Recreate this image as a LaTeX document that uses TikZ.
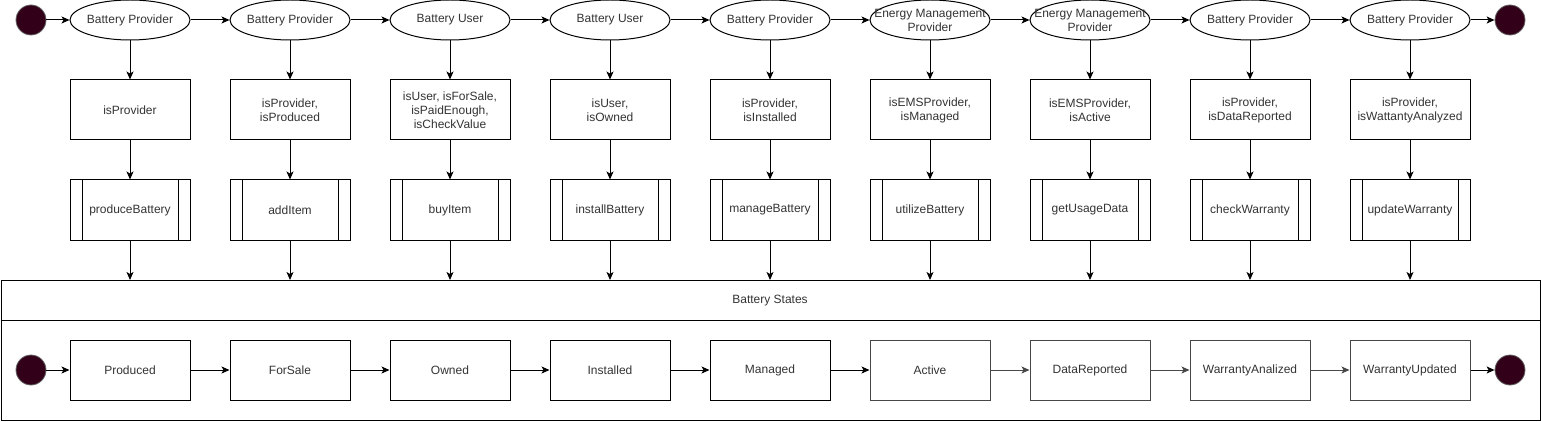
\documentclass[tikz,border=0pt]{standalone}
\usepackage{fontspec}
\setmainfont{Liberation Sans}
\usetikzlibrary{arrows.meta,shapes.geometric}
\definecolor{dot}{RGB}{51,0,26}
\definecolor{txt}{RGB}{51,51,51}
\tikzset{
  every node/.style={font=\fontsize{12}{14}\selectfont, text=txt},
  actor/.style={ellipse, draw, line width=1pt, minimum width=120, minimum height=40, inner sep=0},
  rulebox/.style={rectangle, draw, line width=1pt, minimum width=120, minimum height=60, align=center, inner sep=0},
  procbox/.style={rectangle, draw, line width=1pt, minimum width=120, minimum height=60, inner sep=0,
    path picture={\draw[line width=1pt] ([xshift=12pt]path picture bounding box.north west) -- ([xshift=12pt]path picture bounding box.south west);
                  \draw[line width=1pt] ([xshift=-12pt]path picture bounding box.north east) -- ([xshift=-12pt]path picture bounding box.south east);}},
  statebox/.style={rectangle, draw, line width=1pt, minimum width=120, minimum height=60, inner sep=0},
  graybox/.style={statebox, draw=black!72},
  dotnode/.style={circle, fill=dot, draw=black!60, line width=0.8pt, minimum size=30, inner sep=0},
  arr/.style={-{Stealth[length=8pt,width=7pt,inset=2pt]}, line width=1pt},
  garr/.style={arr, draw=black!72},
}
\begin{document}
\begin{tikzpicture}[x=1pt,y=-1pt]
\useasboundingbox (0,0) rectangle (1541,422);
% top row
\node[dotnode] (s0) at (31,20) {};
\node[actor, label={center:Battery Provider}] (a1) at (130,20) {};
\node[actor, label={center:Battery Provider}] (a2) at (290,20) {};
\node[actor, label={center:Battery User}] (a3) at (450,20) {};
\node[actor, label={center:Battery User}] (a4) at (610,20) {};
\node[actor, label={center:Battery Provider}] (a5) at (770,20) {};
\node[actor, label={[align=center]center:Energy Management\\Provider}] (a6) at (930,20) {};
\node[actor, label={[align=center]center:Energy Management\\Provider}] (a7) at (1090,20) {};
\node[actor, label={center:Battery Provider}] (a8) at (1250,20) {};
\node[actor, label={center:Battery Provider}] (a9) at (1410,20) {};
\node[dotnode] (s1) at (1510,20) {};
% rules
\node[rulebox] (r1) at (130,110) {isProvider};
\node[rulebox] (r2) at (290,110) {isProvider,\\isProduced};
\node[rulebox] (r3) at (450,110) {isUser, isForSale,\\isPaidEnough,\\isCheckValue};
\node[rulebox] (r4) at (610,110) {isUser,\\isOwned};
\node[rulebox] (r5) at (770,110) {isProvider,\\isInstalled};
\node[rulebox] (r6) at (930,110) {isEMSProvider,\\isManaged};
\node[rulebox] (r7) at (1090,110) {isEMSProvider,\\isActive};
\node[rulebox] (r8) at (1250,110) {isProvider,\\isDataReported};
\node[rulebox] (r9) at (1410,110) {isProvider,\\isWattantyAnalyzed};
% processes
\node[procbox] (p1) at (130,210) {produceBattery};
\node[procbox] (p2) at (290,210) {addItem};
\node[procbox] (p3) at (450,210) {buyItem};
\node[procbox] (p4) at (610,210) {installBattery};
\node[procbox] (p5) at (770,210) {manageBattery};
\node[procbox] (p6) at (930,210) {utilizeBattery};
\node[procbox] (p7) at (1090,210) {getUsageData};
\node[procbox] (p8) at (1250,210) {checkWarranty};
\node[procbox] (p9) at (1410,210) {updateWarranty};
% container
\node[draw, line width=1pt, minimum width=1539, minimum height=140, inner sep=0] (states) at (770.5,350.5) {};
\draw[line width=1pt] (states.west |- 0,320.5) -- (states.east |- 0,320.5);
\node at (770,300.5) {Battery States};
% state row
\node[dotnode] (t0) at (31,370) {};
\node[statebox] (b1) at (130,370) {Produced};
\node[statebox] (b2) at (290,370) {ForSale};
\node[statebox] (b3) at (450,370) {Owned};
\node[statebox] (b4) at (610,370) {Installed};
\node[statebox] (b5) at (770,370) {Managed};
\node[graybox] (b6) at (930,370) {Active};
\node[graybox] (b7) at (1090,370) {DataReported};
\node[graybox] (b8) at (1250,370) {WarrantyAnalized};
\node[graybox] (b9) at (1410,370) {WarrantyUpdated};
\node[dotnode] (t1) at (1510,370) {};
% connectors top
\draw[arr] (s0) -- (a1);
\foreach \i/\j in {1/2,2/3,3/4,4/5,5/6,6/7,7/8,8/9} \draw[arr] (a\i) -- (a\j);
\draw[arr] (a9) -- (s1);
\foreach \i in {1,...,9} {
  \draw[arr] (a\i) -- (r\i);
  \draw[arr] (r\i) -- (p\i);
  \draw[arr] (p\i) -- (p\i |- states.north);
}
% connectors bottom
\draw[arr] (t0) -- (b1);
\foreach \i/\j in {1/2,2/3,3/4,4/5,5/6} \draw[arr] (b\i) -- (b\j);
\foreach \i/\j in {6/7,7/8,8/9} \draw[garr] (b\i) -- (b\j);
\draw[arr] (b9) -- (t1);
\end{tikzpicture}
\end{document}
